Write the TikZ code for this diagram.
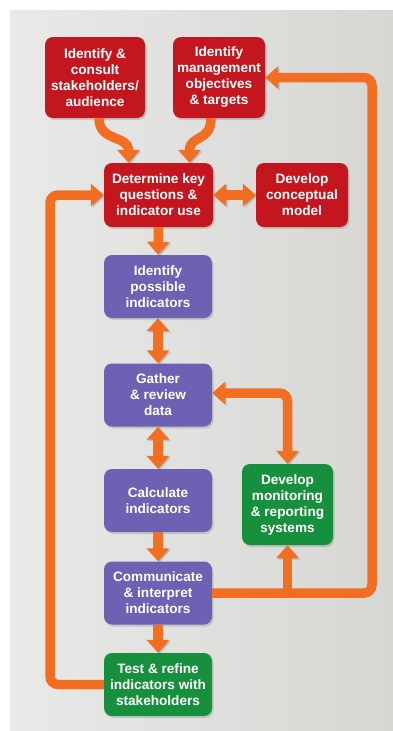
\documentclass[tikz,border=0pt]{standalone}
\usepackage{fontspec}
\setmainfont{Liberation Sans}
\usetikzlibrary{arrows.meta,shadows}

\definecolor{boxred}{HTML}{C3161F}
\definecolor{boxpurple}{HTML}{6C61B2}
\definecolor{boxgreen}{HTML}{17903E}
\definecolor{flowc}{HTML}{F26F21}
\definecolor{panellight}{HTML}{E9E9E8}
\definecolor{paneldark}{HTML}{D6D6D3}

\begin{document}
\begin{tikzpicture}[x=1pt,y=-1pt,
  stage/.style={rounded corners=8pt, text=white, align=center, inner sep=0pt,
    font=\fontsize{13.6}{16}\selectfont\bfseries,
    drop shadow={opacity=0.3,shadow xshift=1.5pt,shadow yshift=-2pt}},
  redstage/.style={stage, fill=boxred},
  purplestage/.style={stage, fill=boxpurple, minimum width=108pt, minimum height=63pt},
  greenstage/.style={stage, fill=boxgreen},
  >={Triangle[width=22pt,length=13pt]},
  flow/.style={draw=flowc, line width=9.5pt, rounded corners=8pt,
    preaction={draw=black, opacity=0.15, transform canvas={shift={(1.5pt,-1.5pt)}}}}
]
\useasboundingbox (0,0) rectangle (393,731);
\fill[white] (0,0) rectangle (393,731);
\shade[left color=panellight, right color=paneldark] (10,10) rectangle (393,731);

% stages
\node[redstage, minimum width=100pt, minimum height=81pt] (consult) at (95,77.5)
  {Identify \&\\consult\\stakeholders/\\audience};
\node[redstage, minimum width=92pt, minimum height=81pt] (mgmt) at (219,77.5)
  {Identify\\management\\objectives\\\& targets};
\node[redstage, minimum width=109pt, minimum height=64pt] (det) at (158.5,195)
  {Determine key\\questions \&\\indicator use};
\node[redstage, minimum width=92pt, minimum height=64pt] (concept) at (302,195)
  {Develop\\conceptual\\model};
\node[purplestage] (possible) at (158,286.5) {Identify\\possible\\indicators};
\node[purplestage] (gather) at (158,395) {Gather\\\& review\\data};
\node[purplestage] (calc) at (158,500.5) {Calculate\\indicators};
\node[greenstage, minimum width=91pt, minimum height=81pt] (mon) at (287.5,504.5)
  {Develop\\monitoring\\\& reporting\\systems};
\node[purplestage] (comm) at (158,593) {Communicate\\\& interpret\\indicators};
\node[greenstage, minimum width=108pt, minimum height=63pt] (test) at (158,684.5)
  {Test \& refine\\indicators with\\stakeholders};

% loop columns
\coordinate (lx) at (50,0);
\coordinate (rx) at (372,0);

% connectors
\draw[flow,->] ([xshift=4pt]consult.south) .. controls +(0,24) and +(0,-28) .. ([xshift=-30pt]det.north);
\draw[flow,->] ([xshift=-8pt]mgmt.south) .. controls +(0,24) and +(0,-28) .. ([xshift=31pt]det.north);
\draw[flow,<->] (det.east) -- (concept.west);
\draw[flow,->] (det.south) -- (possible.north);
\draw[flow,<->] (possible.south) -- (gather.north);
\draw[flow,<->] (gather.south) -- (calc.north);
\draw[flow,->] (calc.south) -- (comm.north);
\draw[flow,->] (comm.south) -- (test.north);
\draw[flow,<->] ([yshift=2pt]gather.east) -| (mon.north);
\draw[flow,->] (test.west) -- (test.west -| lx) -- (det.west -| lx) -- (det.west);
\draw[flow,->] (comm.east) -- (comm.east -| rx) -- (mgmt.east -| rx) -- (mgmt.east);
\draw[flow,->] (comm.east -| mon.south) -- (mon.south);
\end{tikzpicture}
\end{document}
